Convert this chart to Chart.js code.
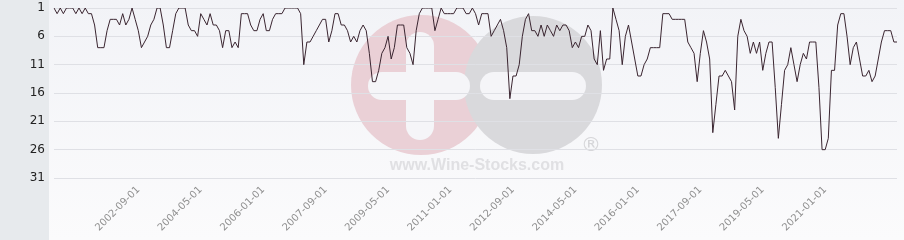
<!DOCTYPE html>
<html>
<head>
<meta charset="utf-8">
<script src="https://cdn.jsdelivr.net/npm/chart.js@4/dist/chart.umd.min.js"></script>
<style>
  html, body { margin: 0; padding: 0; background: #f4f5f8; }
  #wrap { width: 904px; height: 240px; position: relative; }
</style>
</head>
<body>
<div id="wrap"><canvas id="rankChart"></canvas></div>
<script>
// monthly ranking, first month = 2000-06
const startYear = 2000;
const startMonth = 6;

const ranks = [
  1, 2, 1, 2, 1, 1, 1, 2, 1, 2,
  1, 2, 2, 4, 8, 8, 8, 5, 3, 3,
  3, 4, 2, 4, 3, 1, 3, 5, 8, 7,
  6, 4, 3, 1, 1, 4, 8, 8, 5, 2,
  1, 1, 1, 4, 5, 5, 6, 2, 3, 4,
  2, 4, 4, 5, 8, 5, 5, 8, 7, 8,
  2, 2, 2, 4, 5, 5, 3, 2, 5, 5,
  3, 2, 2, 2, 1, 1, 1, 1, 1, 2,
  11, 7, 7, 6, 5, 4, 3, 3, 7, 5,
  2, 2, 4, 4, 5, 7, 6, 7, 5, 4,
  5, 9, 14, 14, 12, 9, 8, 6, 10, 8,
  4, 4, 4, 8, 9, 11, 5, 2, 1, 1,
  1, 1, 5, 3, 1, 2, 2, 2, 2, 1,
  1, 1, 2, 2, 1, 2, 4, 2, 2, 2,
  6, 5, 4, 3, 5, 8, 17, 13, 13, 11,
  6, 3, 2, 5, 5, 6, 4, 6, 4, 5,
  6, 4, 5, 4, 4, 5, 8, 7, 8, 6,
  6, 4, 5, 10, 11, 5, 12, 10, 10, 1,
  3, 5, 11, 6, 4, 7, 10, 13, 13, 11,
  10, 8, 8, 8, 8, 2, 2, 2, 3, 3,
  3, 3, 3, 7, 8, 9, 14, 9, 5, 7,
  10, 23, 18, 13, 13, 12, 13, 14, 19, 6,
  3, 5, 6, 9, 7, 9, 7, 12, 9, 7,
  7, 15, 24, 18, 12, 11, 8, 11, 14, 11,
  9, 10, 7, 7, 7, 15, 26, 26, 24, 12,
  12, 4, 2, 2, 6, 11, 8, 7, 10, 13,
  13, 12, 14, 13, 10, 7, 5, 5, 5, 7, 7
];

const shownDates = [
  '2002-09-01', '2004-05-01', '2006-01-01', '2007-09-01', '2009-05-01', '2011-01-01',
  '2012-09-01', '2014-05-01', '2016-01-01', '2017-09-01', '2019-05-01', '2021-01-01'
];

const yTicks = [1, 6, 11, 16, 21, 26, 31];

// month labels
const months = [];
for (let i = 0; i < ranks.length; i++) {
  const m = startMonth - 1 + i;
  const y = startYear + Math.floor(m / 12);
  const mm = (m % 12) + 1;
  months.push(y + '-' + String(mm).padStart(2, '0') + '-01');
}

// background, side panel and watermark
const backdrop = {
  id: 'backdrop',
  beforeDraw(chart) {
    const c = chart.ctx;
    const w = chart.width, h = chart.height;
    c.save();
    const g = c.createLinearGradient(0, 0, 0, h);
    g.addColorStop(0, '#f2f3f7');
    g.addColorStop(1, '#fbfbfc');
    c.fillStyle = g;
    c.fillRect(0, 0, w, h);
    c.fillStyle = '#e7eaed';
    c.fillRect(0, 0, 49, h);

    // logo
    c.fillStyle = '#ead0d6';
    c.beginPath(); c.arc(421, 85, 70, 0, Math.PI * 2); c.fill();
    c.fillStyle = '#d9d9dc';
    c.beginPath(); c.arc(533, 85, 69, 0, Math.PI * 2); c.fill();

    c.strokeStyle = '#f5f5f8';
    c.lineCap = 'round';
    c.lineWidth = 28;
    c.beginPath(); c.moveTo(420, 46); c.lineTo(420, 126); c.stroke();
    c.beginPath(); c.moveTo(382, 86); c.lineTo(456, 86); c.stroke();
    c.beginPath(); c.moveTo(494, 86); c.lineTo(572, 86); c.stroke();

    c.fillStyle = '#e0e0e3';
    c.font = 'bold 16px "Liberation Sans", Arial, sans-serif';
    c.textAlign = 'center';
    c.textBaseline = 'middle';
    c.fillText('www.Wine-Stocks.com', 477, 166);
    c.fillStyle = '#d6d6d9';
    c.font = '20px "DejaVu Sans", sans-serif';
    c.fillText('\u00AE', 591, 146);
    c.restore();
  }
};

const ctx = document.getElementById('rankChart');
new Chart(ctx, {
  type: 'line',
  data: {
    labels: months,
    datasets: [{
      data: ranks,
      borderColor: '#3a2530',
      borderWidth: 1,
      pointRadius: 0,
      tension: 0,
      fill: false
    }]
  },
  options: {
    responsive: true,
    maintainAspectRatio: false,
    animation: false,
    layout: { padding: 0 },
    plugins: {
      legend: { display: false },
      tooltip: { enabled: false }
    },
    scales: {
      x: {
        type: 'category',
        grid: { display: false, drawTicks: false },
        border: { display: false },
        afterFit(scale) {
          scale.height = 62;
          scale.paddingLeft = 0;
          scale.paddingRight = 7;
        },
        ticks: {
          autoSkip: false,
          minRotation: 45,
          maxRotation: 45,
          padding: 6,
          color: '#8f8f8f',
          font: { family: 'DejaVu Sans', size: 10 },
          callback: function(value, index) {
            const lbl = months[index];
            return shownDates.includes(lbl) ? lbl : '';
          }
        }
      },
      y: {
        reverse: true,
        min: 1,
        max: 31,
        afterFit(scale) {
          scale.width = 54;
          scale.paddingTop = 8;
          scale.paddingBottom = 0;
        },
        afterBuildTicks(scale) {
          scale.ticks = yTicks.map(v => ({ value: v }));
        },
        grid: { color: '#dfe0e5', drawTicks: false },
        border: { display: false },
        ticks: {
          padding: 9,
          color: '#222',
          font: { family: 'DejaVu Sans', size: 12 }
        }
      }
    }
  },
  plugins: [backdrop]
});
</script>
</body>
</html>
